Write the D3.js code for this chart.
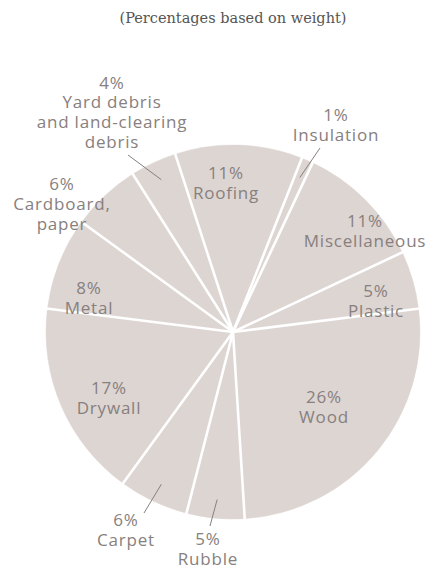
<!DOCTYPE html>
<html lang="en">
<head>
<meta charset="utf-8">
<title>Construction waste composition</title>
<script src="https://cdn.jsdelivr.net/npm/d3@7"></script>
<style>
  body { margin: 0; background: #fff; }
  .title { font-family: "DejaVu Serif", "Liberation Serif", serif; font-size: 14.5px; fill: #555; }
  .lbl { font-family: "Open Sans", "Noto Sans", sans-serif; font-size: 17px; letter-spacing: 0.8px; fill: #87807e; }
  .leader { stroke: #87807e; stroke-width: 1; fill: none; }
  .sep { stroke: #fff; stroke-width: 2.6; }
</style>
</head>
<body>
<div id="chart"></div>
<script>
// waste categories, clockwise from the top
var categories = ["Roofing", "Insulation", "Miscellaneous", "Plastic", "Wood",
                  "Rubble", "Carpet", "Drywall", "Metal", "Cardboard, paper",
                  "Yard debris and land-clearing debris"];
var values = [11, 1, 11, 5, 26, 5, 6, 17, 8, 6, 4];
// label text lines under the percentage
var labelLines = [
  ["Roofing"], ["Insulation"], ["Miscellaneous"], ["Plastic"], ["Wood"],
  ["Rubble"], ["Carpet"], ["Drywall"], ["Metal"], ["Cardboard,", "paper"],
  ["Yard debris", "and land-clearing", "debris"]
];

var width = 433, height = 569,
    cx = 233, cy = 332, radius = 187;

var svg = d3.select("#chart").append("svg")
    .attr("width", width)
    .attr("height", height);

svg.append("text")
    .attr("class", "title")
    .attr("x", cx)
    .attr("y", 23)
    .attr("text-anchor", "middle")
    .text("(Percentages based on weight)");

var pie = d3.pie()
    .sort(null)
    .startAngle(-18 * Math.PI / 180)
    .endAngle((360 - 18) * Math.PI / 180);

var arc = d3.arc().innerRadius(0).outerRadius(radius);
var arcs = pie(values);

var g = svg.append("g").attr("transform", "translate(" + cx + "," + cy + ")");

g.selectAll("path.slice")
  .data(arcs)
  .enter().append("path")
    .attr("class", "slice")
    .attr("d", arc)
    .attr("fill", "#ddd5d2")
    .attr("stroke", "#ddd5d2")
    .attr("stroke-width", 0.5);

// white radial separators at each slice boundary
g.selectAll("line.sep")
  .data(arcs)
  .enter().append("line")
    .attr("class", "sep")
    .attr("x1", 0).attr("y1", 0)
    .attr("x2", function(d) { return Math.sin(d.startAngle) * (radius + 1); })
    .attr("y2", function(d) { return -Math.cos(d.startAngle) * (radius + 1); });

// label centre, offset from the pie centre; outside labels get a leader
var labelPos = [
  {x: -7,   y: -149},                                  // Roofing
  {x: 103,  y: -207, lead: [87, -184]},                // Insulation
  {x: 132,  y: -101},                                  // Miscellaneous
  {x: 143,  y: -31},                                   // Plastic
  {x: 91,   y: 75},                                    // Wood
  {x: -25,  y: 217, lead: [-23, 194]},                 // Rubble
  {x: -107, y: 198, lead: [-89, 181]},                 // Carpet
  {x: -124, y: 66},                                    // Drywall
  {x: -144, y: -34},                                   // Metal
  {x: -171, y: -128},                                  // Cardboard
  {x: -121, y: -220, lead: [-105, -177]}               // Yard
];

var lineH = 19.7;

arcs.forEach(function(a, i) {
  var mid = (a.startAngle + a.endAngle) / 2;
  var p = labelPos[i];
  var lines = [values[i] + "%"].concat(labelLines[i]);
  var t = g.append("text")
      .attr("class", "lbl")
      .attr("text-anchor", "middle");
  var y0 = p.y - (lines.length - 1) * lineH / 2;
  lines.forEach(function(s, k) {
    t.append("tspan")
      .attr("x", p.x)
      .attr("y", y0 + k * lineH)
      .attr("dy", "0.36em")
      .text(s);
  });
  if (p.lead) {
    var rIn = radius * 0.9;
    g.append("line")
      .attr("class", "leader")
      .attr("x1", p.lead[0]).attr("y1", p.lead[1])
      .attr("x2", Math.sin(mid) * rIn)
      .attr("y2", -Math.cos(mid) * rIn);
  }
});
</script>
</body>
</html>
